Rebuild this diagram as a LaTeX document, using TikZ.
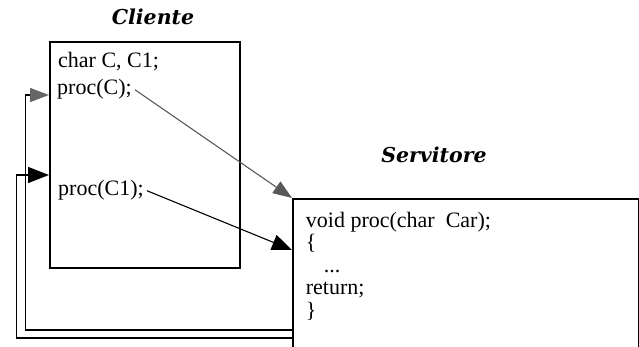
\documentclass[tikz,border=0pt]{standalone}
\usepackage{fontspec}
\setmainfont{Liberation Serif}
\newfontfamily\titlefont{DejaVu Serif}
\usetikzlibrary{arrows.meta}

\begin{document}
\begin{tikzpicture}[x=1pt, y=-1pt,
  box/.style={draw, line width=1.7pt, inner sep=0pt, anchor=north west},
  code/.style={anchor=base west, inner sep=3pt, font=\fontsize{22}{22.5}\selectfont},
  title/.style={anchor=base, font=\titlefont\bfseries\itshape\fontsize{20.5}{20.5}\selectfont},
  ret/.style={line width=1.4pt}]
\useasboundingbox (0,0) rectangle (639,347);

\node[box, minimum width=190pt, minimum height=226pt] (cliente) at (49,41) {};
\node[box, minimum width=346pt, minimum height=170pt] (servitore) at (292,198) {};

\node[title] (tcli) at (153,25) {Cliente};
\node[title] (tserv) at (434,163) {Servitore};

\node[code] (decl) at (55,68) {char C, C1;};
\node[code] (pcall) at (54,95) {proc(C);};
\node[code] (pcall1) at (55,196) {proc(C1);};
\node[code, anchor=north west, align=left, inner sep=0pt] (corpo) at (305.7,212)
  {void proc(char\ \ Car);\\ \{\\ \hspace*{18pt}...\\ return;\\ \}};

\draw[line width=1.1pt, black!65, -{Triangle[length=19pt, width=14pt]}] (pcall.east) -- (servitore.north west);
\draw[line width=1.1pt, -{Triangle[length=20pt, width=16pt]}] (pcall1.east) -- (servitore.west |- 0,250);

\draw[ret, -{Triangle[length=19pt, width=14pt, color=black!60]}]
  ([yshift=-132pt]servitore.north west) -| (25.7,95) -- (cliente.west |- pcall.base);
\draw[ret, -{Triangle[length=21pt, width=16pt]}]
  ([yshift=-140pt]servitore.north west) -| (16.7,175) -- (cliente.west |- 0,175);
\end{tikzpicture}
\end{document}
